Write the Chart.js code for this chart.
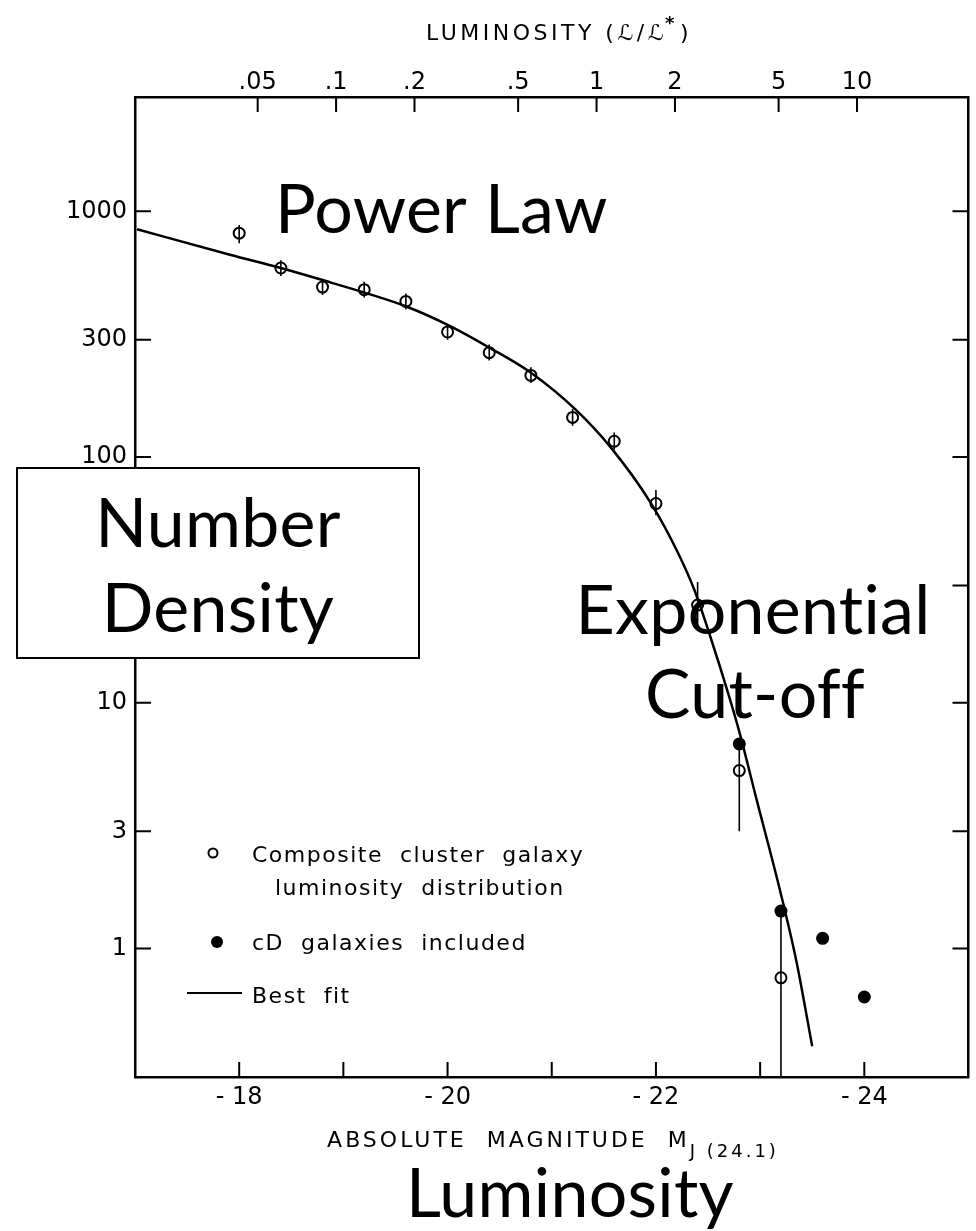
<!DOCTYPE html>
<html>
<head>
<meta charset="utf-8">
<script src="https://cdn.jsdelivr.net/npm/chart.js"></script>
<style>
  html, body { margin: 0; padding: 0; background: #fff; }
  #chart { display: block; }
</style>
</head>
<body>
<canvas id="chart" width="976" height="1231"></canvas>
<script>
// composite cluster galaxy luminosity distribution (open circles)
const magnitudes = [-18.0, -18.4, -18.8, -19.2, -19.6, -20.0, -20.4, -20.8, -21.2, -21.6, -22.0, -22.4, -22.8, -23.2];
const composite  = [815, 588, 492, 480, 430, 323, 266, 215, 145, 116, 64.7, 25, 5.3, 0.76];
const compHigh   = [880, 632, 530, 517, 463, 348, 287, 232, 157, 126, 73.5, 31, 6.8, 1.42];
const compLow    = [742, 546, 457, 446, 399, 300, 247, 200, 134, 107, 58, 20, 3.0, 0.2];

// cD galaxies included (filled dots)
const cdMagnitudes = [-22.8, -23.2, -23.6, -24.0];
const cdDensity    = [6.8, 1.42, 1.1, 0.635];

// best fit curve
const fitMagnitudes = [-17.02, -17.92, -18.40, -18.88, -19.21, -19.61, -20.02, -20.40, -20.81, -21.23, -21.57, -21.95, -22.21, -22.37, -22.52, -22.70, -22.80, -22.97, -23.19, -23.35, -23.50];
const fitDensity    = [846, 664, 588, 513, 466, 409, 342, 279, 219, 156, 109, 65.1, 40.9, 28.7, 18.7, 10.7, 7.63, 3.98, 1.73, 0.88, 0.40];

// axes
const magTicks = [-18, -19, -20, -21, -22, -23, -24];
const magLabeled = [-18, -20, -22, -24];
const yTicks = [1, 3, 10, 30, 100, 300, 1000];
const lumTicks = [0.05, 0.1, 0.2, 0.5, 1, 2, 5, 10];
const lumLabels = ['.05', '.1', '.2', '.5', '1', '2', '5', '10'];
const M_STAR = -21.43;

const tickFont = { family: 'DejaVu Sans', size: 24 };

// error bars through the open circles
const errorBars = {
  id: 'errorBars',
  afterDatasetsDraw(chart) {
    const { ctx, chartArea: a, scales } = chart;
    ctx.save();
    ctx.beginPath();
    ctx.rect(a.left, a.top, a.right - a.left, a.bottom - a.top);
    ctx.clip();
    ctx.strokeStyle = '#000';
    ctx.lineWidth = 1.6;
    ctx.beginPath();
    magnitudes.forEach((m, i) => {
      const px = scales.x.getPixelForValue(m);
      ctx.moveTo(px, scales.y.getPixelForValue(compHigh[i]));
      ctx.lineTo(px, scales.y.getPixelForValue(compLow[i]));
    });
    ctx.stroke();
    ctx.restore();
  }
};

// tick marks pointing into the frame on all four sides
const innerTicks = {
  id: 'innerTicks',
  afterDraw(chart) {
    const { ctx, chartArea: a, scales } = chart;
    ctx.save();
    ctx.strokeStyle = '#000';
    ctx.lineWidth = 2;
    ctx.beginPath();
    scales.x.ticks.forEach(t => {
      const px = scales.x.getPixelForValue(t.value);
      ctx.moveTo(px, a.bottom); ctx.lineTo(px, a.bottom - 15);
    });
    scales.x2.ticks.forEach(t => {
      const px = scales.x2.getPixelForValue(t.value);
      ctx.moveTo(px, a.top); ctx.lineTo(px, a.top + 15);
    });
    scales.y.ticks.forEach(t => {
      const py = scales.y.getPixelForValue(t.value);
      ctx.moveTo(a.left, py); ctx.lineTo(a.left + 16, py);
      ctx.moveTo(a.right, py); ctx.lineTo(a.right - 16, py);
    });
    ctx.stroke();
    ctx.restore();
  }
};

// titles, legend and the big overlay words
const annotations = {
  id: 'annotations',
  afterDraw(chart) {
    const ctx = chart.ctx;
    ctx.save();
    ctx.fillStyle = '#000';
    ctx.strokeStyle = '#000';
    ctx.textBaseline = 'alphabetic';
    ctx.textAlign = 'left';

    // top title
    ctx.letterSpacing = '3.5px';
    const t1 = 'LUMINOSITY (ℒ/ℒ', t3 = ')';
    ctx.font = '22px "DejaVu Sans"';
    const w1 = ctx.measureText(t1).width;
    ctx.font = 'bold 18px "DejaVu Sans"';
    const w2 = ctx.measureText('*').width;
    ctx.font = '22px "DejaVu Sans"';
    const w3 = ctx.measureText(t3).width;
    let x0 = 559 - (w1 + w2 + w3) / 2;
    ctx.fillText(t1, x0, 40);
    ctx.font = 'bold 18px "DejaVu Sans"';
    ctx.fillText('*', x0 + w1 - 2, 29);
    ctx.font = '22px "DejaVu Sans"';
    ctx.fillText(t3, x0 + w1 + w2, 40);

    // bottom axis title with subscript
    ctx.letterSpacing = '3px';
    const b1 = 'ABSOLUTE  MAGNITUDE  M', b2 = 'J (24.1)';
    ctx.font = '22px "DejaVu Sans"';
    const wb1 = ctx.measureText(b1).width;
    ctx.font = '18px "DejaVu Sans"';
    const wb2 = ctx.measureText(b2).width;
    x0 = 553 - (wb1 + wb2) / 2;
    ctx.font = '22px "DejaVu Sans"';
    ctx.fillText(b1, x0, 1147);
    ctx.font = '18px "DejaVu Sans"';
    ctx.fillText(b2, x0 + wb1, 1157);

    // legend
    ctx.letterSpacing = '1.5px';
    ctx.font = '22px "DejaVu Sans"';
    ctx.lineWidth = 2;
    ctx.beginPath(); ctx.arc(213, 853, 4.5, 0, Math.PI * 2); ctx.stroke();
    ctx.fillText('Composite  cluster  galaxy', 252, 862);
    ctx.fillText('luminosity  distribution', 275, 895);
    ctx.beginPath(); ctx.arc(217, 942, 6, 0, Math.PI * 2); ctx.fill();
    ctx.fillText('cD  galaxies  included', 252, 950);
    ctx.beginPath(); ctx.moveTo(187, 993); ctx.lineTo(242, 993); ctx.stroke();
    ctx.fillText('Best  fit', 252, 1003);

    // big words (small letter spacing keeps "ti" from joining)
    ctx.letterSpacing = '0.3px';
    ctx.font = '68px Lato';
    ctx.fillText('Power Law', 275, 233);
    ctx.textAlign = 'center';
    ctx.fillText('Exponential', 753, 634);
    ctx.fillText('Cut-off', 755, 718);
    ctx.fillText('Luminosity', 570, 1217);

    // boxed label over the y axis
    ctx.fillStyle = '#fff';
    ctx.fillRect(17, 468, 402, 190);
    ctx.lineWidth = 2;
    ctx.strokeRect(17, 468, 402, 190);
    ctx.fillStyle = '#000';
    ctx.fillText('Number', 218, 547);
    ctx.fillText('Density', 218, 632);
    ctx.restore();
  }
};

const ctx = document.getElementById('chart').getContext('2d');
new Chart(ctx, {
  type: 'scatter',
  data: {
    datasets: [
      {
        label: 'Best fit',
        data: fitMagnitudes.map((m, i) => ({ x: m, y: fitDensity[i] })),
        showLine: true,
        borderColor: '#000',
        borderWidth: 2.5,
        pointRadius: 0,
        cubicInterpolationMode: 'monotone',
        order: 3
      },
      {
        label: 'Composite cluster galaxy luminosity distribution',
        data: magnitudes.map((m, i) => ({ x: m, y: composite[i] })),
        pointStyle: 'circle',
        pointRadius: 5.5,
        pointBorderWidth: 2,
        pointBorderColor: '#000',
        pointBackgroundColor: 'rgba(0,0,0,0)',
        order: 2
      },
      {
        label: 'cD galaxies included',
        data: cdMagnitudes.map((m, i) => ({ x: m, y: cdDensity[i] })),
        pointStyle: 'circle',
        pointRadius: 6.5,
        pointBorderWidth: 0,
        pointBackgroundColor: '#000',
        order: 1
      }
    ]
  },
  options: {
    responsive: false,
    devicePixelRatio: 1,
    animation: false,
    layout: { padding: 0 },
    plugins: {
      legend: { display: false },
      tooltip: { enabled: false }
    },
    scales: {
      x: {
        type: 'linear',
        position: 'bottom',
        min: -25, max: -17,
        reverse: true,
        afterBuildTicks: s => { s.ticks = magTicks.map(v => ({ value: v })); },
        afterFit: s => { s.height = 154; },
        grid: { display: false, drawTicks: false },
        border: { display: true, color: '#000', width: 2.5 },
        ticks: {
          autoSkip: false, maxRotation: 0, padding: 6,
          color: '#000', font: tickFont,
          callback: v => magLabeled.includes(v) ? '- ' + Math.abs(v) : ''
        }
      },
      x2: {
        type: 'linear',
        position: 'top',
        min: -25, max: -17,
        reverse: true,
        afterBuildTicks: s => { s.ticks = lumTicks.map(L => ({ value: M_STAR - 2.5 * Math.log10(L) })); },
        afterFit: s => { s.height = 97; },
        grid: { display: false, drawTicks: false },
        border: { display: true, color: '#000', width: 2.5 },
        ticks: {
          autoSkip: false, maxRotation: 0, padding: 0,
          color: '#000', font: tickFont,
          callback: (v, i) => lumLabels[i]
        }
      },
      y: {
        type: 'logarithmic',
        position: 'left',
        min: 0.318, max: 2920,
        afterBuildTicks: s => { s.ticks = yTicks.map(v => ({ value: v })); },
        afterFit: s => { s.width = 135; },
        grid: { display: false, drawTicks: false },
        border: { display: true, color: '#000', width: 2.5 },
        ticks: {
          autoSkip: false, padding: 8,
          color: '#000', font: tickFont,
          callback: v => String(v)
        }
      },
      y2: {
        type: 'logarithmic',
        position: 'right',
        min: 0.318, max: 2920,
        afterBuildTicks: s => { s.ticks = yTicks.map(v => ({ value: v })); },
        afterFit: s => { s.width = 4; },
        grid: { display: false, drawTicks: false },
        border: { display: true, color: '#000', width: 2.5 },
        ticks: { display: false }
      }
    }
  },
  plugins: [errorBars, innerTicks, annotations]
});
</script>
</body>
</html>
